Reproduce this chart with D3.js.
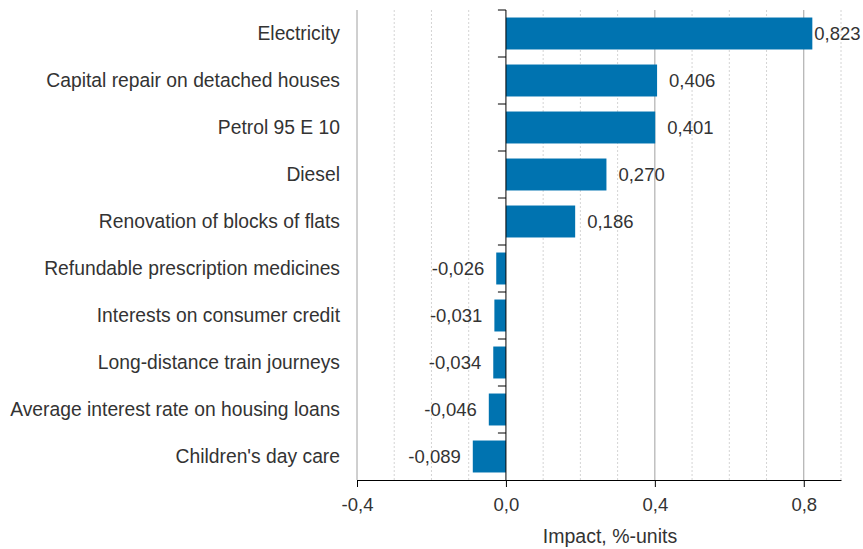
<!DOCTYPE html>
<html>
<head>
<meta charset="utf-8">
<script src="https://cdn.jsdelivr.net/npm/d3@7"></script>
<style>
body { margin: 0; background: #fff; }
svg { font-family: "Liberation Sans", Arial, sans-serif; }
</style>
</head>
<body>
<svg width="863" height="549"></svg>
<script>
var categories = ["Electricity", "Capital repair on detached houses", "Petrol 95 E 10", "Diesel",
  "Renovation of blocks of flats", "Refundable prescription medicines", "Interests on consumer credit",
  "Long-distance train journeys", "Average interest rate on housing loans", "Children's day care"];
var values = [0.823, 0.406, 0.401, 0.270, 0.186, -0.026, -0.031, -0.034, -0.046, -0.089];
var xTicks = [-0.4, 0.0, 0.4, 0.8];
var gridTicks = [-0.3, -0.2, -0.1, 0.1, 0.2, 0.3, 0.5, 0.6, 0.7, 0.9];

var svg = d3.select("svg"),
  mLeft = 357, mRight = 841, mTop = 10, mBottom = 480,
  fs = 18.5;

var x = d3.scaleLinear().domain([-0.4, 0.9]).range([mLeft, mRight]);
var y = d3.scaleBand().domain(categories).range([mTop, mBottom]).paddingInner(0.32).paddingOuter(0.16);

var fmt = function(v) { return d3.format(".3f")(v).replace(".", ",").replace("−", "-"); };

// minor grid
svg.append("g").selectAll("line").data(gridTicks).join("line")
  .attr("x1", d => x(d)).attr("x2", d => x(d))
  .attr("y1", mTop).attr("y2", mBottom)
  .attr("stroke", "#d4d4d4").attr("stroke-dasharray", "2,2");

// major grid
svg.append("g").selectAll("line").data(xTicks.filter(d => d != 0)).join("line")
  .attr("x1", d => x(d)).attr("x2", d => x(d))
  .attr("y1", mTop).attr("y2", mBottom)
  .attr("stroke", "#a0a0a0");

// bars
svg.append("g").selectAll("rect").data(values).join("rect")
  .attr("x", d => x(Math.min(0, d)))
  .attr("width", d => Math.abs(x(d) - x(0)))
  .attr("y", (d, i) => y(categories[i]))
  .attr("height", y.bandwidth())
  .attr("fill", "#0073b0");

// value labels
svg.append("g").selectAll("text").data(values).join("text")
  .attr("x", d => d > 0.7 ? x(d) + 2 : d >= 0 ? x(d) + 12 : x(d) - 12)
  .attr("y", (d, i) => y(categories[i]) + y.bandwidth() / 2)
  .attr("dy", "0.35em")
  .attr("text-anchor", d => d >= 0 ? "start" : "end")
  .attr("font-size", fs)
  .attr("fill", "#333")
  .text(d => fmt(d));

// y axis
var yAxis = svg.append("g")
  .attr("transform", "translate(" + x(0) + ",0)");
yAxis.append("line").attr("x1", 0).attr("x2", 0).attr("y1", mTop).attr("y2", mBottom).attr("stroke", "#000");
var bounds = d3.range(categories.length).map(i => mTop + i * y.step());
yAxis.selectAll(".tk").data(bounds).join("line").attr("class", "tk")
  .attr("x1", -8).attr("x2", 0).attr("y1", d => d).attr("y2", d => d).attr("stroke", "#000");

svg.append("g").selectAll("text").data(categories).join("text")
  .attr("x", 340)
  .attr("y", d => y(d) + y.bandwidth() / 2)
  .attr("dy", "0.35em")
  .attr("text-anchor", "end")
  .attr("font-size", 19.3)
  .attr("fill", "#333")
  .text(d => d);

// x axis
var xAxis = svg.append("g")
  .attr("transform", "translate(0," + mBottom + ")")
  .call(d3.axisBottom(x).tickValues(xTicks).tickSize(7).tickSizeOuter(0).tickFormat(d => d3.format(".1f")(d).replace(".", ",").replace("−", "-")));
xAxis.select(".domain").attr("stroke", "#000");
xAxis.selectAll(".tick line").attr("stroke", "#000");
xAxis.selectAll(".tick text").attr("font-size", fs).attr("fill", "#333").attr("dy", "1.15em")
  .attr("font-family", "Liberation Sans, Arial, sans-serif");

svg.append("text")
  .attr("x", 610).attr("y", 543)
  .attr("text-anchor", "middle")
  .attr("font-size", 19.5)
  .attr("fill", "#333")
  .text("Impact, %-units");
</script>
</body>
</html>
